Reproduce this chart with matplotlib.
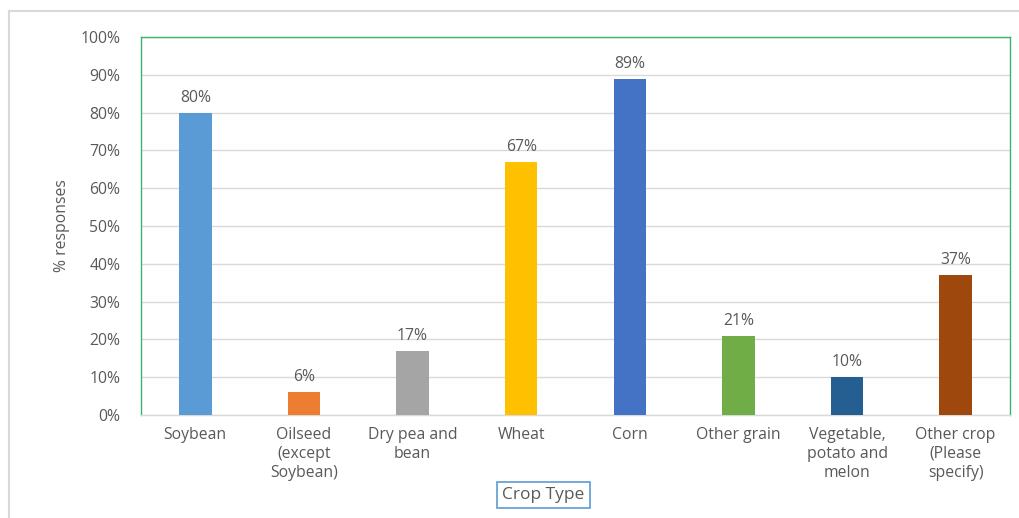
import matplotlib.pyplot as plt
from matplotlib.lines import Line2D
from matplotlib.ticker import FixedLocator

categories = ["Soybean", "Oilseed\n(except\nSoybean)", "Dry pea and\nbean", "Wheat",
              "Corn", "Other grain", "Vegetable,\npotato and\nmelon", "Other crop\n(Please\nspecify)"]
values = [80, 6, 17, 67, 89, 21, 10, 37]
colors = ["#5B9BD5", "#ED7D31", "#A5A5A5", "#FFC000", "#4472C4", "#70AD47", "#255E91", "#9E480E"]
y_ticks = [0, 10, 20, 30, 40, 50, 60, 70, 80, 90, 100]

plt.rcParams['font.family'] = ['Open Sans', 'DejaVu Sans']
text_color = "#595959"
fs = 11.3

fig = plt.figure(figsize=(10.2, 5.18), dpi=100)
ax = fig.add_axes([141 / 1020, 1 - 415 / 518, 869 / 1020, 378 / 518])

x = list(range(len(categories)))
ax.bar(x, values, width=0.30, color=colors, zorder=3)
for xi, v in zip(x, values):
    ax.annotate(f"{v}%", (xi, v), xytext=(0, 5), textcoords="offset points",
                ha="center", va="bottom", fontsize=fs, color=text_color)

ax.set_xlim(-0.5, len(categories) - 0.5)
ax.set_ylim(0, 100)
ax.yaxis.set_major_locator(FixedLocator(y_ticks))
ax.set_yticklabels([f"{t}%" for t in y_ticks])
ax.set_xticks(x)
ax.set_xticklabels(categories, linespacing=1.24)
ax.tick_params(axis="both", length=0, labelsize=fs, labelcolor=text_color)
ax.tick_params(axis="y", pad=15)
ax.tick_params(axis="x", pad=8.5)
ax.grid(axis="y", color="#D9D9D9", linewidth=1.0, zorder=0)
ax.set_axisbelow(True)

for side in ("left", "top", "right"):
    ax.spines[side].set_color("#3CB371")
    ax.spines[side].set_linewidth(1.0)
ax.spines["bottom"].set_color("#D9D9D9")
ax.spines["bottom"].set_linewidth(1.0)

ax.set_ylabel("% responses", fontsize=fs, color=text_color, va="center")
ax.yaxis.set_label_coords((62 - 141) / 869, (415 - 226) / 378)

fig.text(543.5 / 1020, 1 - 495 / 518, "Crop Type", ha="center", va="center",
         fontsize=12.5, color=text_color,
         bbox=dict(boxstyle="square,pad=0.3", facecolor="white",
                   edgecolor="#5B9BD5", linewidth=1.2))

# outer chart border
fig.add_artist(Line2D([9 / 1020, 9 / 1020], [0, 1 - 11 / 518], color="#D9D9D9",
                      linewidth=1.5, transform=fig.transFigure))
fig.add_artist(Line2D([9 / 1020, 1], [1 - 11 / 518, 1 - 11 / 518], color="#D9D9D9",
                      linewidth=1.5, transform=fig.transFigure))

fig.savefig("out.png", dpi=100)
